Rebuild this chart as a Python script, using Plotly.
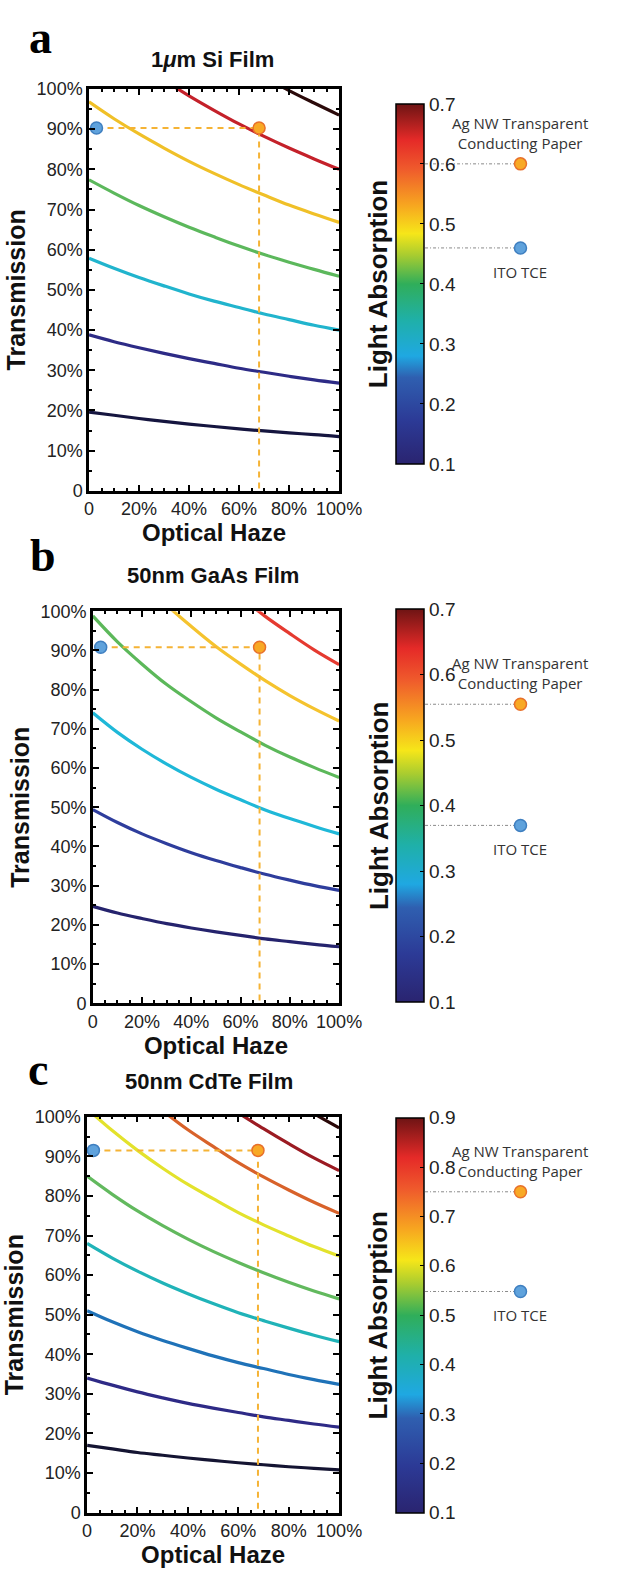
import plotly.graph_objects as go

W, H = 617, 1573

# ---------------- data ----------------
haze = [0, 10, 20, 30, 40, 50, 60, 70, 80, 90, 100]   # optical haze, %

# Panel a: 1 um Si film - absorption contour lines (transmission %, vs haze)
levels_a = [0.1, 0.2, 0.3, 0.4, 0.5, 0.6, 0.7]
trans_a = [
    [19.6, 18.8, 18.0, 17.3, 16.6, 16.0, 15.4, 14.9, 14.4, 14.0, 13.5],
    [38.8, 37.1, 35.6, 34.2, 32.9, 31.7, 30.5, 29.5, 28.5, 27.6, 26.8],
    [57.9, 55.4, 53.1, 51.0, 49.0, 47.2, 45.6, 44.0, 42.6, 41.2, 40.0],
    [77.4, 74.1, 71.0, 68.2, 65.6, 63.2, 60.9, 58.8, 56.9, 55.1, 53.4],
    [96.8, 92.6, 88.8, 85.3, 82.0, 79.0, 76.2, 73.6, 71.1, 68.9, 66.8],
    [116.0, 111.0, 106.4, 102.2, 98.3, 94.7, 91.3, 88.2, 85.3, 82.6, 80.0],
    [135.5, 129.7, 124.3, 119.4, 114.8, 110.6, 106.6, 103.0, 99.6, 96.5, 93.5],
]
colors_a = ['#15153f', '#2d2b86', '#21b4cd', '#5cb85c', '#f0c028', '#c4212a', '#2b0a0a']

# Panel b: 50 nm GaAs film
levels_b = [0.1, 0.2, 0.3, 0.4, 0.5, 0.6]
trans_b = [
    [24.7, 23.0, 21.6, 20.3, 19.2, 18.2, 17.3, 16.4, 15.7, 15.0, 14.4],
    [49.4, 46.1, 43.2, 40.7, 38.4, 36.4, 34.6, 32.9, 31.4, 30.0, 28.8],
    [74.1, 69.1, 64.8, 61.0, 57.6, 54.6, 51.9, 49.3, 47.1, 45.1, 43.2],
    [98.8, 92.2, 86.5, 81.3, 76.9, 72.8, 69.2, 65.8, 62.8, 60.1, 57.6],
    [123.5, 115.2, 108.1, 101.6, 96.1, 91.0, 86.5, 82.3, 78.5, 75.1, 72.0],
    [148.2, 138.3, 129.7, 122.0, 115.3, 109.2, 103.7, 98.7, 94.3, 90.1, 86.4],
]
colors_b = ['#25236d', '#2e3d9c', '#1fb8d8', '#5cb85a', '#f5c32e', '#e53a30']

# Panel c: 50 nm CdTe film
levels_c = [0.1, 0.2, 0.3, 0.4, 0.5, 0.6, 0.7, 0.8, 0.9]
trans_c = [
    [17.0, 16.1, 15.2, 14.5, 13.8, 13.2, 12.6, 12.1, 11.6, 11.2, 10.8],
    [34.0, 32.2, 30.5, 29.0, 27.6, 26.4, 25.3, 24.2, 23.3, 22.4, 21.6],
    [51.0, 48.2, 45.7, 43.5, 41.5, 39.6, 37.9, 36.4, 34.9, 33.6, 32.4],
    [68.0, 64.3, 61.0, 58.0, 55.3, 52.8, 50.5, 48.5, 46.6, 44.8, 43.2],
    [85.0, 80.4, 76.2, 72.5, 69.1, 66.0, 63.2, 60.6, 58.2, 56.0, 54.0],
    [102.0, 96.5, 91.5, 87.0, 82.9, 79.3, 75.8, 72.7, 69.9, 67.2, 64.8],
    [119.0, 112.6, 106.7, 101.5, 96.7, 92.5, 88.4, 84.8, 81.5, 78.4, 75.6],
    [136.0, 128.7, 122.0, 116.0, 110.6, 105.7, 101.0, 97.0, 93.2, 89.6, 86.4],
    [153.0, 144.7, 137.2, 130.5, 124.4, 118.9, 113.7, 109.1, 104.8, 100.8, 97.2],
]
colors_c = ['#141432', '#2e2a86', '#1f72b8', '#20b3b8', '#62b95e', '#e3e22c', '#d8622a', '#9b1b22', '#2a0808']

# Operating points: [haze %, transmission %, absorption]
ito_a = [3.0, 90.3, 0.46]
agnw_a = [68.0, 90.3, 0.60]
ito_b = [3.2, 90.8, 0.37]
agnw_b = [67.7, 90.8, 0.555]
ito_c = [2.5, 91.5, 0.548]
agnw_c = [67.8, 91.5, 0.75]

cbar_range_a = [0.1, 0.7]
cbar_range_b = [0.1, 0.7]
cbar_range_c = [0.1, 0.9]

titles = ['1<i>μ</i>m Si Film', '50nm GaAs Film', '50nm CdTe Film']
letters = ['a', 'b', 'c']

x_tickvals = [0, 20, 40, 60, 80, 100]
x_ticktext = ['0', '20%', '40%', '60%', '80%', '100%']
y_tickvals = [0, 10, 20, 30, 40, 50, 60, 70, 80, 90, 100]
y_ticktext = ['0', '10%', '20%', '30%', '40%', '50%', '60%', '70%', '80%', '90%', '100%']

# ---------------- layout geometry (pixels) ----------------
def px(x):
    return x / W

def py(y):
    return 1 - y / H

panels = [
    dict(levels=levels_a, trans=trans_a, colors=colors_a, ito=ito_a, ag=agnw_a, cr=cbar_range_a,
         plot_x=(88, 350), plot_y=(80, 487), cb_y=(95, 460), title_y=50, title_x=217,
         letter_xy=(37, 28)),
    dict(levels=levels_b, trans=trans_b, colors=colors_b, ito=ito_b, ag=agnw_b, cr=cbar_range_b,
         plot_x=(92, 350), plot_y=(609, 1006), cb_y=(607, 1005), title_y=573, title_x=218,
         letter_xy=(40, 553)),
    dict(levels=levels_c, trans=trans_c, colors=colors_c, ito=ito_c, ag=agnw_c, cr=cbar_range_c,
         plot_x=(86, 350), plot_y=(1121, 1522), cb_y=(1122, 1522), title_y=1085, title_x=214,
         letter_xy=(35, 1073)),
]

colorscale = [
    [0.0, '#2a2470'], [0.12, '#2c3a96'], [0.24, '#2f5fb0'], [0.3, '#1fa8e2'],
    [0.4, '#1fb0a8'], [0.5, '#30ae5a'], [0.58, '#a8cc30'], [0.64, '#f6e619'],
    [0.72, '#f7a520'], [0.82, '#ef5a2c'], [0.9, '#e52a28'], [1.0, '#6e1414'],
]

GUIDE = '#f5b335'
ORANGE_FILL = '#f8a925'
ORANGE_EDGE = '#e8702a'
BLUE_FILL = '#5fa2dc'
BLUE_EDGE = '#3f7fc0'
FONT = 'Liberation Sans, Arial, sans-serif'

fig = go.Figure()
annotations = []
layout_axes = {}

for i, p in enumerate(panels):
    n = i + 1
    xa = 'x' if n == 1 else f'x{n}'
    ya = 'y' if n == 1 else f'y{n}'
    # callout axes
    m = n + 3
    xc, yc = f'x{m}', f'y{m}'

    # contour lines
    for lev, tr, col in zip(p['levels'], p['trans'], p['colors']):
        fig.add_trace(go.Scatter(x=haze, y=tr, mode='lines', line=dict(color=col, width=3.2, shape='spline'),
                                 xaxis=xa, yaxis=ya, showlegend=False, hoverinfo='skip', name=str(lev)))

    ito, ag = p['ito'], p['ag']
    # dashed guide lines
    fig.add_trace(go.Scatter(x=[ito[0], ag[0], ag[0]], y=[ag[1], ag[1], 0], mode='lines',
                             line=dict(color=GUIDE, width=2, dash='6px,5px'),
                             xaxis=xa, yaxis=ya, showlegend=False, hoverinfo='skip'))
    # dots
    fig.add_trace(go.Scatter(x=[ito[0]], y=[ito[1]], mode='markers', cliponaxis=False,
                             marker=dict(size=12, color=BLUE_FILL, line=dict(color=BLUE_EDGE, width=1.5)),
                             xaxis=xa, yaxis=ya, showlegend=False, hoverinfo='skip'))
    fig.add_trace(go.Scatter(x=[ag[0]], y=[ag[1]], mode='markers', cliponaxis=False,
                             marker=dict(size=12, color=ORANGE_FILL, line=dict(color=ORANGE_EDGE, width=1.5)),
                             xaxis=xa, yaxis=ya, showlegend=False, hoverinfo='skip'))

    # colorbar (carried by an empty marker trace)
    cb_top, cb_bot = p['cb_y']
    fig.add_trace(go.Scatter(x=[None], y=[None], mode='markers', xaxis=xa, yaxis=ya,
                             showlegend=False, hoverinfo='skip',
                             marker=dict(color=[p['cr'][0]], colorscale=colorscale,
                                         cmin=p['cr'][0], cmax=p['cr'][1], showscale=True,
                                         colorbar=dict(x=px(410), xanchor='left', xpad=0, ypad=0,
                                                       y=py((cb_top + cb_bot) / 2), yanchor='middle',
                                                       len=(cb_bot - cb_top) / H, lenmode='fraction',
                                                       thickness=28, thicknessmode='pixels',
                                                       outlinewidth=1.5, outlinecolor='black',
                                                       tickmode='array',
                                                       tickvals=[round(v * 0.1, 1) for v in range(int(p['cr'][0] * 10), int(p['cr'][1] * 10) + 1)],
                                                       ticks='inside', ticklen=4, tickcolor='black',
                                                       tickfont=dict(family=FONT, size=19, color='#222')))))

    # callouts on the colorbar scale
    for pt, fill, edge in [(ag, ORANGE_FILL, ORANGE_EDGE), (ito, BLUE_FILL, BLUE_EDGE)]:
        fig.add_trace(go.Scatter(x=[0, 1], y=[pt[2], pt[2]], mode='lines',
                                 line=dict(color='#8a8a8a', width=1, dash='3px,2px,1px,2px'),
                                 xaxis=xc, yaxis=yc, showlegend=False, hoverinfo='skip'))
        fig.add_trace(go.Scatter(x=[1], y=[pt[2]], mode='markers', cliponaxis=False,
                                 marker=dict(size=12, color=fill, line=dict(color=edge, width=1.5)),
                                 xaxis=xc, yaxis=yc, showlegend=False, hoverinfo='skip'))
    annotations.append(dict(xref=xc, yref=yc, x=1, y=ag[2], text='Ag NW Transparent<br>Conducting Paper',
                            showarrow=False, xanchor='center', yanchor='bottom', yshift=9,
                            font=dict(family='Open Sans, sans-serif', size=15, color='#333')))
    annotations.append(dict(xref=xc, yref=yc, x=1, y=ito[2], text='ITO TCE',
                            showarrow=False, xanchor='center', yanchor='top', yshift=-12,
                            font=dict(family='Open Sans, sans-serif', size=15, color='#333')))

    # axes
    x0, x1 = p['plot_x']
    y0, y1 = p['plot_y']
    common = dict(showgrid=False, zeroline=False, showline=True, linecolor='black', linewidth=2.5,
                  mirror='allticks', ticks='inside', ticklen=6, tickwidth=1.5, tickcolor='black',
                  tickfont=dict(family=FONT, size=18, color='#222'))
    layout_axes['xaxis' if n == 1 else f'xaxis{n}'] = dict(
        common, domain=[px(x0), px(x1)], range=[0, 100], anchor=ya,
        tickmode='array', tickvals=x_tickvals, ticktext=x_ticktext,
        minor=dict(ticks='inside', ticklen=3, dtick=5, tickcolor='black'),
        title=dict(text='<b>Optical Haze</b>', font=dict(family=FONT, size=24, color='#111'), standoff=0))
    layout_axes['yaxis' if n == 1 else f'yaxis{n}'] = dict(
        common, domain=[py(y1), py(y0)], range=[0, 100], anchor=xa,
        tickmode='array', tickvals=y_tickvals, ticktext=y_ticktext,
        minor=dict(ticks='inside', ticklen=3, dtick=5, tickcolor='black'),
        title=dict(text='<b>Transmission</b>', font=dict(family=FONT, size=25, color='#111'), standoff=4))
    layout_axes[f'xaxis{m}'] = dict(domain=[px(440), px(540)], range=[0, 1], visible=False,
                                    anchor=yc, fixedrange=True)
    layout_axes[f'yaxis{m}'] = dict(domain=[py(cb_bot), py(cb_top)], range=p['cr'], visible=False,
                                    anchor=xc, fixedrange=True)

    # titles and panel letters
    annotations.append(dict(xref='paper', yref='paper', x=px(p['title_x']), y=py(p['title_y']),
                            text='<b>' + titles[i] + '</b>', showarrow=False, xanchor='center', yanchor='middle',
                            font=dict(family=FONT, size=22, color='#111')))
    lx, ly = p['letter_xy']
    annotations.append(dict(xref='paper', yref='paper', x=px(lx), y=py(ly), text='<b>' + letters[i] + '</b>',
                            showarrow=False, xanchor='center', yanchor='middle',
                            font=dict(family='Liberation Serif, Times New Roman, serif', size=46, color='black')))
    # colorbar title
    annotations.append(dict(xref='paper', yref='paper', x=px(391), y=py((cb_top + cb_bot) / 2),
                            text='<b>Light Absorption</b>', textangle=-90, showarrow=False,
                            xanchor='center', yanchor='middle',
                            font=dict(family=FONT, size=26, color='#111')))

fig.update_layout(width=W, height=H, margin=dict(l=0, r=0, t=0, b=0),
                  paper_bgcolor='white', plot_bgcolor='white',
                  annotations=annotations, **layout_axes)

fig.write_html('out.html', config={'displayModeBar': False},
               post_script="document.body.style.margin='0px';")
